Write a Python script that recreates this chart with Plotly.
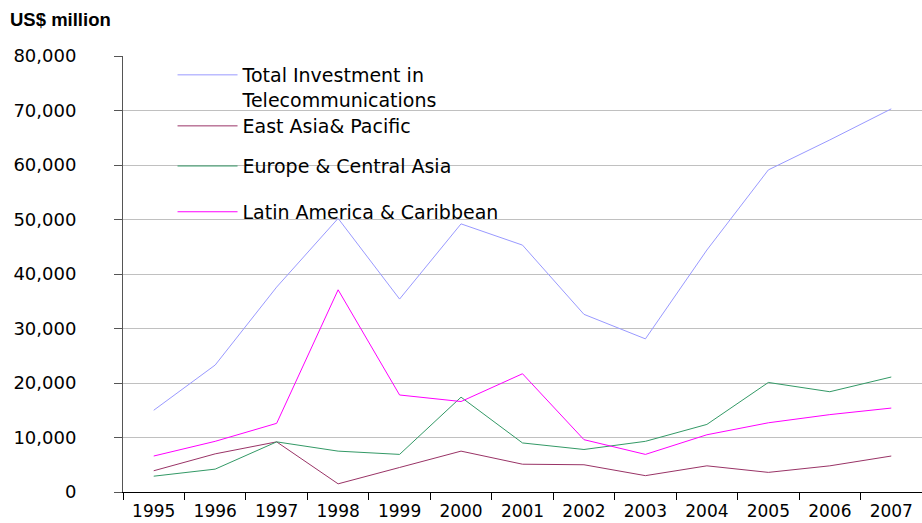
import plotly.graph_objects as go

years = [str(y) for y in range(1995, 2008)]

total_telecom = [15000, 23300, 37600, 50200, 35400, 49200, 45300,
                 32600, 28100, 44400, 59100, 64600, 70300]
east_asia = [3900, 7000, 9200, 1500, 4500, 7500, 5100,
             5000, 3000, 4800, 3600, 4800, 6600]
europe_central_asia = [2900, 4200, 9200, 7500, 6900, 17400, 9000,
                       7800, 9300, 12400, 20100, 18400, 21100]
latin_america = [6600, 9300, 12600, 37100, 17800, 16600, 21700,
                 9600, 6900, 10500, 12700, 14200, 15400]

series = [
    ("Total Investment in<br>Telecommunications", total_telecom, "#9999FF"),
    ("East Asia& Pacific", east_asia, "#993366"),
    ("Europe & Central Asia", europe_central_asia, "#339966"),
    ("Latin America & Caribbean", latin_america, "#FF00FF"),
]

# each series gets its own legend box so the uneven spacing can be kept
legend_ids = ["legend", "legend2", "legend3", "legend4"]
legend_tops = [1.0, 0.883, 0.791, 0.686]

font_family = "DejaVu Sans"

fig = go.Figure()
for (name, values, color), lid in zip(series, legend_ids):
    fig.add_trace(
        go.Scatter(
            x=years,
            y=values,
            mode="lines",
            name=name,
            legend=lid,
            line=dict(color=color, width=1),
        )
    )

legend_style = dict(
    x=0.062,
    xanchor="left",
    yanchor="top",
    bgcolor="rgba(0,0,0,0)",
    font=dict(family=font_family, size=19, color="black"),
    valign="top",
    itemwidth=60,
)

fig.update_layout(
    width=922,
    height=523,
    margin=dict(l=123, r=0, t=56, b=31, autoexpand=False),
    paper_bgcolor="white",
    plot_bgcolor="white",
    font=dict(family=font_family, size=18, color="black"),
    title=dict(
        text="<b>US$ million</b>",
        font=dict(family="Liberation Sans", size=18.5, color="black"),
        xref="container",
        yref="container",
        x=10 / 922,
        xanchor="left",
        y=1 - 20 / 523,
        yanchor="middle",
    ),
    showlegend=True,
)
for lid, top in zip(legend_ids, legend_tops):
    fig.update_layout({lid: dict(legend_style, y=top)})

fig.update_xaxes(
    type="category",
    range=[-0.5, len(years) - 0.5],
    tickson="boundaries",
    ticks="outside",
    ticklen=7,
    tickcolor="black",
    showline=True,
    linecolor="black",
    linewidth=1,
    showgrid=False,
    tickfont=dict(size=17),
    ticklabelstandoff=4,
    automargin=False,
)

fig.update_yaxes(
    range=[0, 80000],
    dtick=10000,
    tickformat=",",
    ticks="outside",
    ticklen=8,
    tickcolor="#555555",
    showline=True,
    linecolor="#555555",
    linewidth=1,
    showgrid=True,
    gridcolor="#C0C0C0",
    gridwidth=1,
    zeroline=False,
    tickfont=dict(size=18),
    ticklabelstandoff=34,
    automargin=False,
)

fig.write_html(
    "out.html",
    config={"displayModeBar": False},
    post_script="document.body.style.margin = '0';",
)
